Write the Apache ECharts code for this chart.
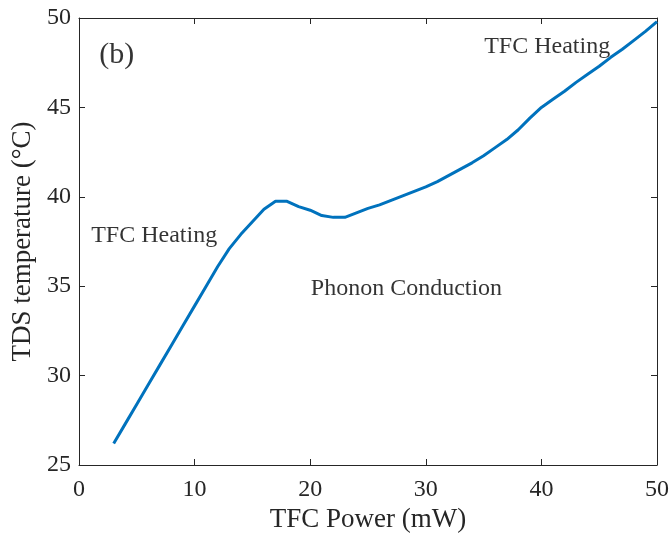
<!DOCTYPE html>
<html><head><meta charset="utf-8">
<script src="https://cdn.jsdelivr.net/npm/echarts@6/dist/echarts.min.js"></script>
<style>html,body{margin:0;padding:0;background:#fff}#c{width:670px;height:535px}</style>
</head><body><div id="c"></div>
<script>
const power = [3,4,5,6,7,8,9,10,11,12,13,14,15,16,17,18,19,20,21,22,23,24,25,26,27,28,29,30,31,32,33,34,35,36,37,38,39,40,41,42,43,44,45,46,47,48,49,50];
const temperature = [26.2,27.3,28.4,29.5,30.6,31.7,32.8,33.9,35.0,36.1,37.1,37.9,38.6,39.3,39.75,39.75,39.45,39.25,38.95,38.85,38.85,39.1,39.35,39.55,39.8,40.05,40.3,40.55,40.85,41.2,41.55,41.9,42.3,42.75,43.2,43.75,44.4,45.0,45.45,45.9,46.4,46.85,47.3,47.8,48.25,48.75,49.25,49.8];
const xTicks = [0,10,20,30,40,50];
const yTicks = [25,30,35,40,45,50];
const annotations = [
  {text:'(b)', x:1.75, y:47.9, size:30},
  {text:'TFC Heating', x:1.05, y:37.8, size:24},
  {text:'Phonon Conduction', x:20.05, y:34.86, size:24},
  {text:'TFC Heating', x:35.05, y:48.4, size:24}
];
const font = 'Liberation Serif, Times New Roman, serif';
const axisColor = '#262626';
const chart = echarts.init(document.getElementById('c'));
const axisCommon = {
  axisLine:{show:true,onZero:false,lineStyle:{color:axisColor,width:1}},
  axisTick:{show:true,inside:true,length:6,lineStyle:{color:axisColor}},
  splitLine:{show:false}
};
chart.setOption({
  animation:false,
  grid:{left:79,right:13,top:18,bottom:70,containLabel:false,outerBoundsMode:'none'},
  xAxis:[
    Object.assign({type:'value',min:0,max:50,interval:10,position:'bottom',
      name:'TFC Power (mW)',nameLocation:'middle',nameGap:40,
      nameTextStyle:{fontFamily:font,fontSize:27,color:axisColor},
      axisLabel:{fontFamily:font,fontSize:24,color:axisColor,margin:13}},axisCommon),
    Object.assign({type:'value',min:0,max:50,interval:10,position:'top',axisLabel:{show:false}},axisCommon)
  ],
  yAxis:[
    Object.assign({type:'value',min:25,max:50,interval:5,position:'left',
      name:'TDS temperature (°C)',nameLocation:'middle',nameGap:32,
      nameTextStyle:{fontFamily:font,fontSize:27,color:axisColor},
      axisLabel:{fontFamily:font,fontSize:24,color:axisColor,margin:8}},axisCommon),
    Object.assign({type:'value',min:25,max:50,interval:5,position:'right',axisLabel:{show:false}},axisCommon)
  ],
  series:[{
    type:'line',
    data:power.map((p,i)=>[p,temperature[i]]),
    showSymbol:false,
    smooth:false,
    lineStyle:{color:'#0072BD',width:3},
    z:3
  },{
    type:'scatter',
    data:annotations.map(a=>({value:[a.x,a.y],name:a.text,label:{fontSize:a.size}})),
    symbolSize:0,
    silent:true,
    label:{show:true,position:'right',distance:0,formatter:p=>p.name,
      fontFamily:font,fontSize:24,color:'#000'}
  }]
});
</script></body></html>
